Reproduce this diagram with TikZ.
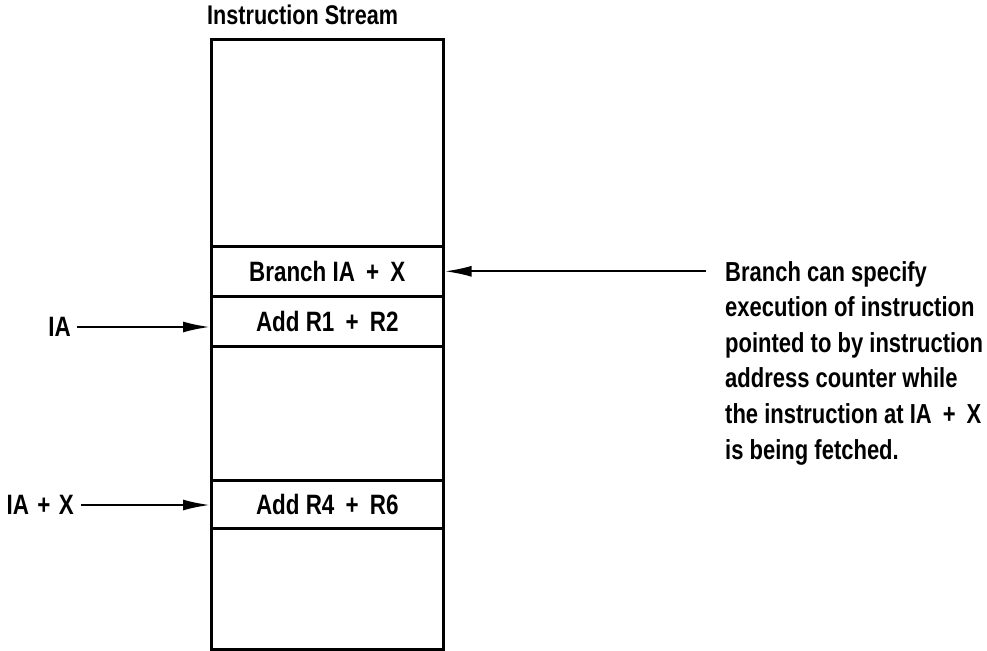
\documentclass[tikz,border=0pt]{standalone}
\usepackage{fontspec}
\setmainfont{Liberation Sans Bold}[FakeStretch=0.8]
\usetikzlibrary{arrows.meta}
\newcommand\pl{\hspace{0.4em}+\hspace{0.4em}}
\begin{document}
\begin{tikzpicture}[x=1pt,y=-1pt,
  cell/.style={draw, line width=2.6pt, minimum width=232pt, inner sep=0pt,
    anchor=north west, font=\fontsize{28}{30}\selectfont},
  lbl/.style={inner sep=0pt, font=\fontsize{28}{30}\selectfont},
  arr/.style={-{Latex[length=27pt,width=11pt]}, line width=2.2pt}]
\useasboundingbox (0,0) rectangle (987,650);
\node[cell, minimum height=207pt] (top) at (210,38) {};
\node[cell, minimum height=50pt] (br) at (210,245) {Branch IA\pl X};
\node[cell, minimum height=50pt] (a1) at (210,295) {Add R1\pl R2};
\node[cell, minimum height=134pt] (mid) at (210,345) {};
\node[cell, minimum height=48pt] (a2) at (210,479) {Add R4\pl R6};
\node[cell, minimum height=121pt] (bot) at (210,527) {};
\node[inner sep=0pt, anchor=base west, font=\fontsize{27}{30}\selectfont] (title) at (207,25) {Instruction Stream};
\node[lbl, anchor=east] (ia) at (71,327) {IA};
\node[lbl, anchor=east] (iax) at (74,505) {IA\hspace{0.3em}+\hspace{0.3em}X};
\node[inner sep=0pt, anchor=north west, align=left,
  font=\fontsize{27.5}{35.6}\selectfont] (note) at (725,261)
  {Branch can specify\\execution of instruction\\pointed to by instruction\\address counter while\\the instruction at IA\pl X\\is being fetched.};
\draw[arr, shorten <=6pt] (ia.east) -- (ia.east -| a1.west);
\draw[arr, shorten <=7pt] (iax.east) -- (iax.east -| a2.west);
\draw[arr] ([xshift=-19pt]note.north west |- br.east) -- (br.east);
\end{tikzpicture}
\end{document}
